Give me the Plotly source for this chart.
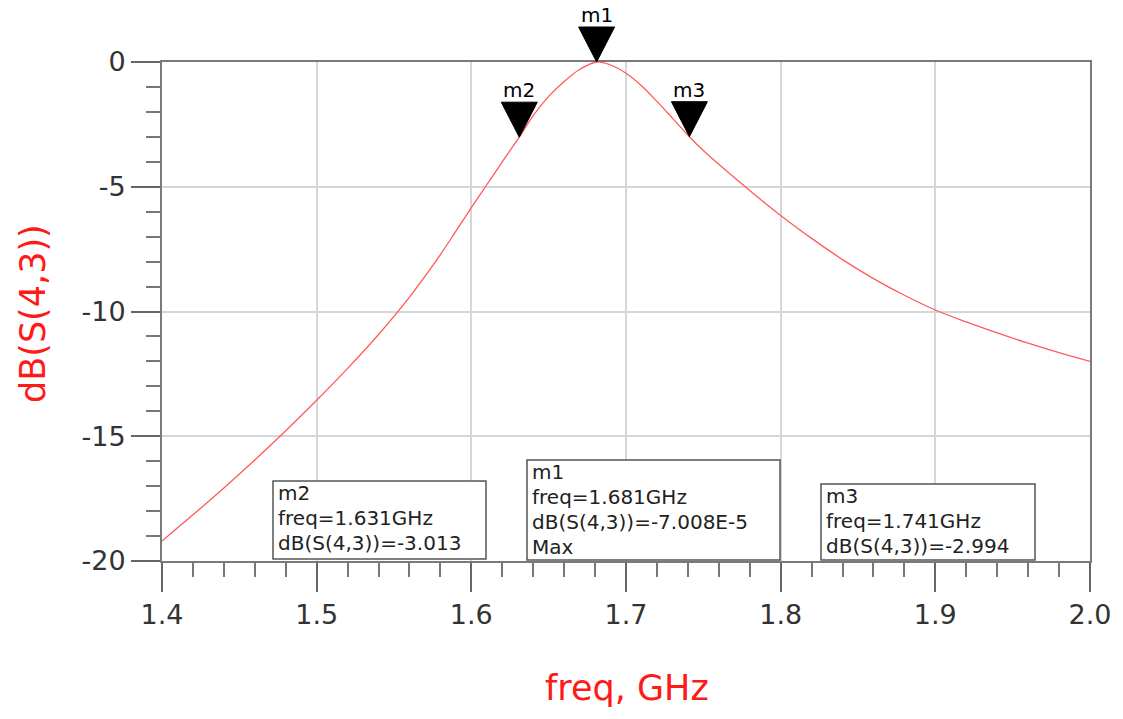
import plotly.graph_objects as go

# S(4,3) transmission of the coupled resonator, read over 1.4-2.0 GHz
freq_ghz = [1.40, 1.42, 1.44, 1.46, 1.48, 1.50, 1.52, 1.54, 1.56, 1.58,
            1.59, 1.60, 1.61, 1.62, 1.631, 1.64, 1.65, 1.66, 1.67, 1.681,
            1.69, 1.70, 1.71, 1.72, 1.73, 1.741, 1.75, 1.76, 1.77, 1.78,
            1.79, 1.80, 1.82, 1.84, 1.86, 1.88, 1.90, 1.92, 1.94, 1.96,
            1.98, 2.00]
s43_db = [-19.2, -18.15, -17.07, -15.95, -14.78, -13.56, -12.28, -10.92, -9.42, -7.72,
          -6.78, -5.84, -4.92, -4.0, -3.013, -2.15, -1.38, -0.78, -0.3, 0.0,
          -0.12, -0.45, -0.95, -1.58, -2.25, -2.994, -3.55, -4.1, -4.63, -5.15,
          -5.66, -6.15, -7.07, -7.92, -8.68, -9.35, -9.94, -10.42, -10.86, -11.27,
          -11.65, -12.0]

# Markers
marker_names = ["m1", "m2", "m3"]
marker_freq = [1.681, 1.631, 1.741]
marker_db = [-7.008e-5, -3.013, -2.994]
marker_db_text = ["-7.008E-5", "-3.013", "-2.994"]
marker_note = ["Max", "", ""]

x_ticks = [1.4, 1.5, 1.6, 1.7, 1.8, 1.9, 2.0]
x_tick_text = ["1.4", "1.5", "1.6", "1.7", "1.8", "1.9", "2.0"]
y_ticks = [0, -5, -10, -15, -20]
y_tick_text = ["0", "-5", "-10", "-15", "-20"]

X_RANGE = [1.4, 2.0]
Y_RANGE = [-20, 0]

W, H = 1123, 719
PL, PR, PT, PB = 162, 1090, 62, 561

FONT = "DejaVu Sans"
RED = "#ff1a1a"
FRAME = "#7a7a7a"


def px_x(p):
    return (p - PL) / (PR - PL)


def px_y(p):
    return (PB - p) / (PB - PT)


def paper_y_of(v):
    return (v - Y_RANGE[0]) / (Y_RANGE[1] - Y_RANGE[0])


fig = go.Figure()
fig.add_trace(go.Scatter(
    x=freq_ghz, y=s43_db, mode="lines",
    line=dict(color="#ff5a5a", width=1.3, shape="spline", smoothing=1.0),
    hoverinfo="skip", showlegend=False,
))

shapes = []
annotations = []

# Marker triangles with their names above
for name, f, v in zip(marker_names, marker_freq, marker_db):
    shapes.append(dict(
        type="path", xref="x", yref="paper",
        xsizemode="pixel", ysizemode="pixel",
        xanchor=f, yanchor=paper_y_of(v),
        path="M -18,35 L 18,35 L 0,0 Z",
        fillcolor="black", line=dict(color="black", width=1),
        layer="above",
    ))
    annotations.append(dict(
        x=f, y=v, xref="x", yref="y", text=name, showarrow=False,
        yshift=47, font=dict(family=FONT, size=20, color="black"),
        xanchor="center", yanchor="middle",
    ))

# Readout boxes: (left, top, right, bottom) in pixels
boxes = {
    "m2": (273, 481, 486, 559),
    "m1": (527, 460, 780, 560),
    "m3": (821, 484, 1035, 560),
}
for name, f, v, vt, note in zip(marker_names, marker_freq, marker_db,
                                marker_db_text, marker_note):
    l, t, r, b = boxes[name]
    shapes.append(dict(
        type="rect", xref="paper", yref="paper",
        x0=px_x(l), x1=px_x(r), y0=px_y(b), y1=px_y(t),
        line=dict(color="#555555", width=1.5), fillcolor="white",
        layer="above",
    ))
    lines = [name, f"freq={f:.3f}GHz", f"dB(S(4,3))={vt}"]
    if note:
        lines.append(note)
    for i, txt in enumerate(lines):
        annotations.append(dict(
            x=px_x(l + 3), y=px_y(t + 12 + 25 * i), xref="paper", yref="paper",
            text=txt, showarrow=False, xanchor="left", yanchor="middle",
            font=dict(family=FONT, size=20, color="#222222"),
        ))

# Axis titles
annotations.append(dict(
    x=px_x(627), y=px_y(688), xref="paper", yref="paper",
    text="freq, GHz", showarrow=False, xanchor="center", yanchor="middle",
    font=dict(family=FONT, size=35, color=RED),
))
annotations.append(dict(
    x=px_x(33), y=px_y(314), xref="paper", yref="paper",
    text="dB(S(4,3))", showarrow=False, textangle=-90,
    xanchor="center", yanchor="middle",
    font=dict(family=FONT, size=35, color=RED),
))

fig.update_layout(
    width=W, height=H,
    margin=dict(l=PL, r=W - PR, t=PT, b=H - PB, pad=0),
    paper_bgcolor="white", plot_bgcolor="white",
    shapes=shapes, annotations=annotations,
    showlegend=False,
)
fig.update_xaxes(
    range=X_RANGE, tickvals=x_ticks, ticktext=x_tick_text,
    showgrid=True, gridcolor="#d6d6d6", gridwidth=1.5,
    showline=True, mirror=True, linecolor=FRAME, linewidth=2,
    ticks="outside", ticklen=29, tickwidth=1.5, tickcolor="#666666",
    tickfont=dict(family=FONT, size=27, color="#333333"),
    minor=dict(dtick=0.02, ticks="outside", ticklen=14, tickwidth=1.5,
               tickcolor="#777777", showgrid=False),
    zeroline=False,
)
fig.update_yaxes(
    range=Y_RANGE, tickvals=y_ticks, ticktext=y_tick_text,
    showgrid=True, gridcolor="#d6d6d6", gridwidth=1.5,
    showline=True, mirror=True, linecolor=FRAME, linewidth=2,
    ticks="outside", ticklen=29, tickwidth=1.5, tickcolor="#666666",
    tickfont=dict(family=FONT, size=27, color="#333333"),
    minor=dict(dtick=1, ticks="outside", ticklen=14, tickwidth=1.5,
               tickcolor="#777777", showgrid=False),
    zeroline=False,
)

fig.write_html("out.html")
